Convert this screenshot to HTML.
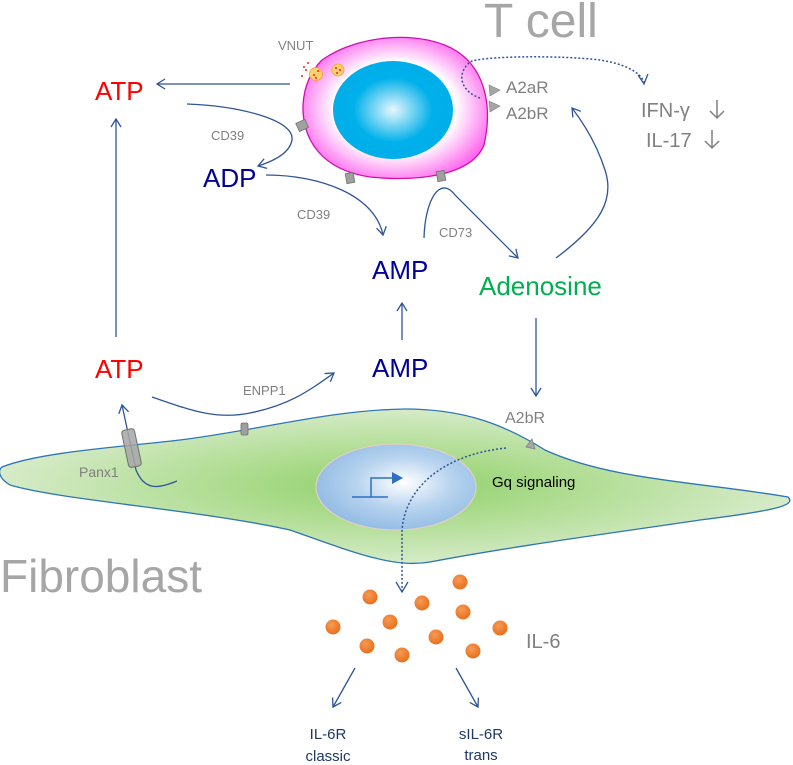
<!DOCTYPE html>
<html><head><meta charset="utf-8"><style>
html,body{margin:0;padding:0;background:#fff;width:793px;height:765px;overflow:hidden}
text{font-family:"Liberation Sans",sans-serif}
</style></head><body>
<svg width="793" height="765" viewBox="0 0 793 765" xmlns="http://www.w3.org/2000/svg">
<defs>
<radialGradient id="fib" cx="50%" cy="50%" r="50%"><stop offset="0" stop-color="#8fcf6a"/><stop offset="0.35" stop-color="#a8da88"/><stop offset="1" stop-color="#d6ebc8"/></radialGradient>
<radialGradient id="fn" cx="55%" cy="45%" r="60%"><stop offset="0" stop-color="#ffffff"/><stop offset="0.5" stop-color="#b7d3ef"/><stop offset="1" stop-color="#8fb9e3"/></radialGradient>
<radialGradient id="tc" cx="50%" cy="50%" r="55%"><stop offset="0.6" stop-color="#ffffff"/><stop offset="1" stop-color="#ff66ee"/></radialGradient>
<radialGradient id="tn" cx="50%" cy="50%" r="55%"><stop offset="0" stop-color="#e8f7fd"/><stop offset="0.6" stop-color="#00b0ea"/><stop offset="1" stop-color="#00aee8"/></radialGradient>
<radialGradient id="dot" cx="40%" cy="35%" r="65%"><stop offset="0" stop-color="#f79a55"/><stop offset="1" stop-color="#e8701e"/></radialGradient>
<marker id="ar" markerWidth="12" markerHeight="12" refX="9" refY="6" orient="auto" markerUnits="userSpaceOnUse"><path d="M1,1 L9,6 L1,11" fill="none" stroke="#2f5597" stroke-width="1.3"/></marker>
</defs>

<!-- Fibroblast -->
<path d="M2,467 C40,452 120,447 180,440 C260,430 330,410 405,409 C465,409 505,425 545,450 C610,480 700,482 788,497 C796,505 780,510 700,520 C620,532 520,545 430,562 C395,568 360,555 290,530 C200,510 60,500 10,485 C-2,478 -2,470 2,467 Z" fill="url(#fib)" stroke="#2e75b6" stroke-width="1.3"/>
<ellipse cx="396" cy="487" rx="80" ry="43" fill="url(#fn)" stroke="#ddd0c0" stroke-width="1.3"/>
<path d="M352,497 L388,497 M371,497 L371,478 L394,478" fill="none" stroke="#2e6fc4" stroke-width="1.5"/>
<path d="M392,472 L403,478 L392,484 Z" fill="#2e6fc4"/>
<text x="492" y="487" font-size="15" fill="#000">Gq signaling</text>

<rect x="241" y="423" width="7" height="12" rx="1.5" fill="#a0a0a0" stroke="#707070" stroke-width="0.8"/>
<path d="M526,447 L532,439 L535,449 Z" fill="#a6a6a6" stroke="#808080" stroke-width="0.8"/>
<path d="M177,481 C160,488 145,492 136,470 L122,405" fill="none" stroke="#2f5597" stroke-width="1.3" marker-end="url(#ar)"/>
<rect x="125" y="429" width="13" height="38" rx="3" fill="#a6a6a6" fill-opacity="0.85" stroke="#707070" stroke-width="1" transform="rotate(-12 132 448)"/>
<text x="79" y="477" font-size="14" fill="#808080">Panx1</text>

<!-- T cell -->
<path d="M322,60 C360,33 425,30 458,52 C487,72 492,110 484,145 C472,175 420,182 370,177 C322,170 302,140 303,105 C304,88 310,72 322,60 Z" fill="url(#tc)" stroke="#d10fb0" stroke-width="1.3"/>
<ellipse cx="393" cy="110" rx="60" ry="49" fill="url(#tn)"/>
<circle cx="316" cy="74" r="6.5" fill="#ffd070" stroke="#f0a030" stroke-width="0.8"/>
<circle cx="338" cy="70" r="6" fill="#ffd070" stroke="#f0a030" stroke-width="0.8"/>
<g fill="#ff2020"><circle cx="314" cy="75" r="1"/><circle cx="318" cy="71" r="1"/><circle cx="316" cy="78" r="1"/><circle cx="336" cy="68" r="1"/><circle cx="340" cy="70" r="1"/><circle cx="337" cy="73" r="1"/><circle cx="306" cy="70" r="1"/><circle cx="302" cy="76" r="1"/><circle cx="308" cy="63" r="1"/><circle cx="304" cy="67" r="1"/></g>
<rect x="297" y="121" width="10" height="9" fill="#a0a0a0" stroke="#707070" stroke-width="0.8" transform="rotate(-25 302 125)"/>
<rect x="346" y="173" width="8" height="10" fill="#a0a0a0" stroke="#707070" stroke-width="0.8" transform="rotate(-10 350 178)"/>
<rect x="437" y="171" width="8" height="10" fill="#a0a0a0" stroke="#707070" stroke-width="0.8" transform="rotate(-10 441 176)"/>
<path d="M489,85 L500,90 L490,96 Z" fill="#a6a6a6" stroke="#808080" stroke-width="0.6"/>
<path d="M489,101 L500,106 L490,112 Z" fill="#a6a6a6" stroke="#808080" stroke-width="0.6"/>
<text x="506" y="93" font-size="17" fill="#808080">A2aR</text>
<text x="506" y="119" font-size="17" fill="#808080">A2bR</text>
<text x="278" y="50" font-size="13" fill="#808080">VNUT</text>
<text x="484" y="37" font-size="48" fill="#a6a6a6">T cell</text>
<text x="0" y="592" font-size="46" fill="#a6a6a6">Fibroblast</text>

<!-- dotted -->
<path d="M480,98 C462,92 455,75 470,62 C480,56 560,55 600,60 C625,64 640,72 644,82" fill="none" stroke="#2f5597" stroke-width="1.5" stroke-dasharray="2,2"/>
<path d="M638,75 L644,84 L648,74" fill="none" stroke="#2f5597" stroke-width="1.3"/>
<path d="M506,448 C440,455 405,490 402,530 L402,592" fill="none" stroke="#2f5597" stroke-width="1.5" stroke-dasharray="2,2"/>
<path d="M396,582 L402,592 L408,582" fill="none" stroke="#2f5597" stroke-width="1.3"/>

<text x="641" y="117" font-size="20" fill="#808080">IFN-γ</text>
<text x="646" y="147" font-size="20" fill="#808080">IL-17</text>
<path d="M717,100 L717,118 M710,111 L717,118 L724,111" fill="none" stroke="#808080" stroke-width="1.5"/>
<path d="M712,130 L712,148 M705,141 L712,148 L719,141" fill="none" stroke="#808080" stroke-width="1.5"/>

<!-- labels -->
<text x="95" y="100" font-size="26" fill="#ff0000">ATP</text>
<text x="95" y="378" font-size="26" fill="#ff0000">ATP</text>
<text x="203" y="187" font-size="26" fill="#000099">ADP</text>
<text x="372" y="279" font-size="26" fill="#000099">AMP</text>
<text x="372" y="377" font-size="26" fill="#000099">AMP</text>
<text x="479" y="295" font-size="26" fill="#00b050">Adenosine</text>
<text x="211" y="140" font-size="13" fill="#808080">CD39</text>
<text x="297" y="219" font-size="13" fill="#808080">CD39</text>
<text x="439" y="237" font-size="13" fill="#808080">CD73</text>
<text x="243" y="395" font-size="13" fill="#808080">ENPP1</text>
<text x="505" y="423" font-size="16" fill="#808080">A2bR</text>

<!-- arrows -->
<path d="M290,84 L157,84" fill="none" stroke="#2f5597" stroke-width="1.3" marker-end="url(#ar)"/>
<path d="M116,337 L116,119" fill="none" stroke="#2f5597" stroke-width="1.3" marker-end="url(#ar)"/>
<path d="M187,104 C240,106 295,120 292,140 C290,152 277,160 258,166" fill="none" stroke="#2f5597" stroke-width="1.3" marker-end="url(#ar)"/>
<path d="M266,175 C320,175 375,195 383,235" fill="none" stroke="#2f5597" stroke-width="1.3" marker-end="url(#ar)"/>
<path d="M424,238 C425,200 440,175 455,195 L518,258" fill="none" stroke="#2f5597" stroke-width="1.3" marker-end="url(#ar)"/>
<path d="M556,258 C600,225 615,200 605,170 C597,145 585,125 572,108" fill="none" stroke="#2f5597" stroke-width="1.3" marker-end="url(#ar)"/>
<path d="M402,340 L402,303" fill="none" stroke="#2f5597" stroke-width="1.3" marker-end="url(#ar)"/>
<path d="M536,318 L536,396" fill="none" stroke="#2f5597" stroke-width="1.3" marker-end="url(#ar)"/>
<path d="M152,397 C190,410 215,420 250,413 C290,405 310,390 334,373" fill="none" stroke="#2f5597" stroke-width="1.3" marker-end="url(#ar)"/>

<!-- IL-6 -->
<g fill="url(#dot)">
<circle cx="370" cy="597" r="7.5"/><circle cx="460" cy="582" r="7.5"/><circle cx="422" cy="603" r="7.5"/><circle cx="463" cy="612" r="7.5"/><circle cx="333" cy="627" r="7.5"/><circle cx="390" cy="622" r="7.5"/><circle cx="500" cy="628" r="7.5"/><circle cx="436" cy="637" r="7.5"/><circle cx="367" cy="646" r="7.5"/><circle cx="402" cy="655" r="7.5"/><circle cx="473" cy="651" r="7.5"/>
</g>
<text x="526" y="648" font-size="20" fill="#808080">IL-6</text>
<path d="M355,668 L333,707" fill="none" stroke="#2f5597" stroke-width="1.3" marker-end="url(#ar)"/>
<path d="M456,668 L478,707" fill="none" stroke="#2f5597" stroke-width="1.3" marker-end="url(#ar)"/>
<g font-size="15" fill="#1f3864" text-anchor="middle">
<text x="328" y="739">IL-6R</text><text x="328" y="761">classic</text>
<text x="481" y="739">sIL-6R</text><text x="481" y="760">trans</text>
</g>
</svg>
</body></html>
